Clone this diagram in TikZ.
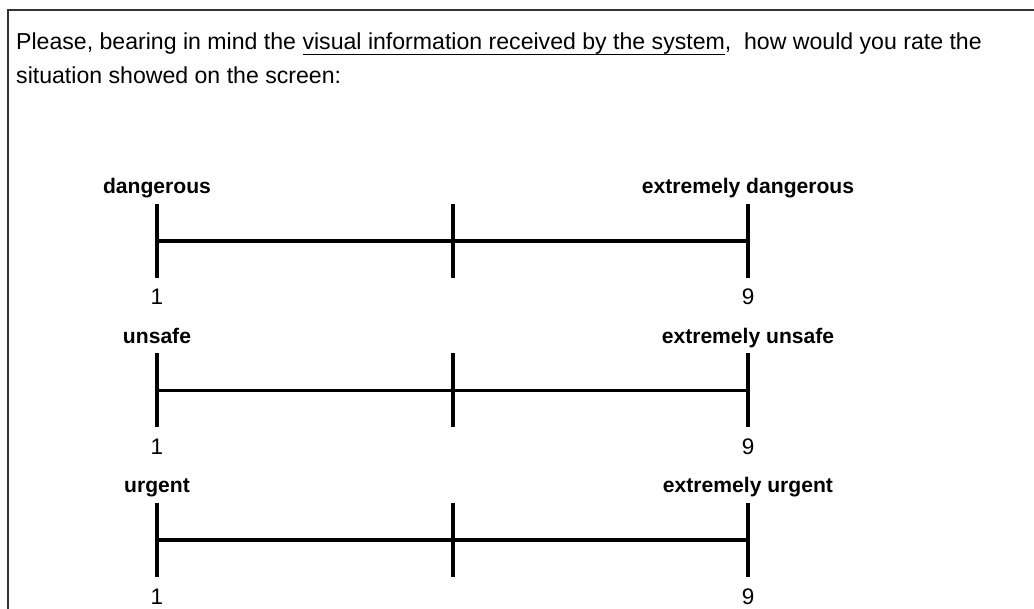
\documentclass[tikz,border=0pt]{standalone}
\usepackage{fontspec}
\setmainfont{Liberation Sans}
% underline at a fixed depth
\newcommand{\ulbar}[1]{\setbox0\hbox{#1}\rlap{\rule[-5pt]{\wd0}{1.4pt}}\box0}

\begin{document}
\begin{tikzpicture}[x=1pt,y=-1pt,
  scaleline/.style={line width=3.2pt},
  question/.style={anchor=base west,inner sep=0pt,font=\fontsize{23.1}{27}\selectfont},
  endlabel/.style={anchor=base,inner sep=0pt,font=\fontsize{21.1}{24}\selectfont\bfseries},
  numlabel/.style={anchor=base,inner sep=0pt,font=\fontsize{22.5}{24}\selectfont}]
  \useasboundingbox (0,0) rectangle (1034,609);
  % frame
  \coordinate (fr) at (1034,10);
  \coordinate (ftl) at (8,10);
  \coordinate (fb) at (8,609);
  \draw[line width=1.2pt, black!80] (fr) -- (ftl) -- (fb);
  % question
  \node[question] (q1) at (16,50) {Please, bearing in mind the \ulbar{visual information received by the system},\ \ how would you rate the};
  \node[question] (q2) at (16,84) {situation showed on the screen:};
  % rating scales
  \foreach \i/\lo/\hi in {0/dangerous/extremely dangerous, 1/unsafe/extremely unsafe, 2/urgent/extremely urgent} {
    \pgfmathsetmacro{\yy}{241+149.5*\i}
    \coordinate (l\i) at (157,\yy);
    \coordinate (m\i) at (453,\yy);
    \coordinate (r\i) at (748,\yy);
    \draw[scaleline] (l\i) -- (r\i);
    \foreach \t in {l,m,r}
      \draw[scaleline] ([yshift=-37pt]\t\i) -- ([yshift=37pt]\t\i);
    \node[endlabel] (lo\i) at ([yshift=47pt]l\i) {\lo};
    \node[endlabel] (hi\i) at ([yshift=47pt]r\i) {\hi};
    \node[numlabel] (one\i) at ([yshift=-64pt]l\i) {1};
    \node[numlabel] (nine\i) at ([yshift=-64pt]r\i) {9};
  }
\end{tikzpicture}
\end{document}
